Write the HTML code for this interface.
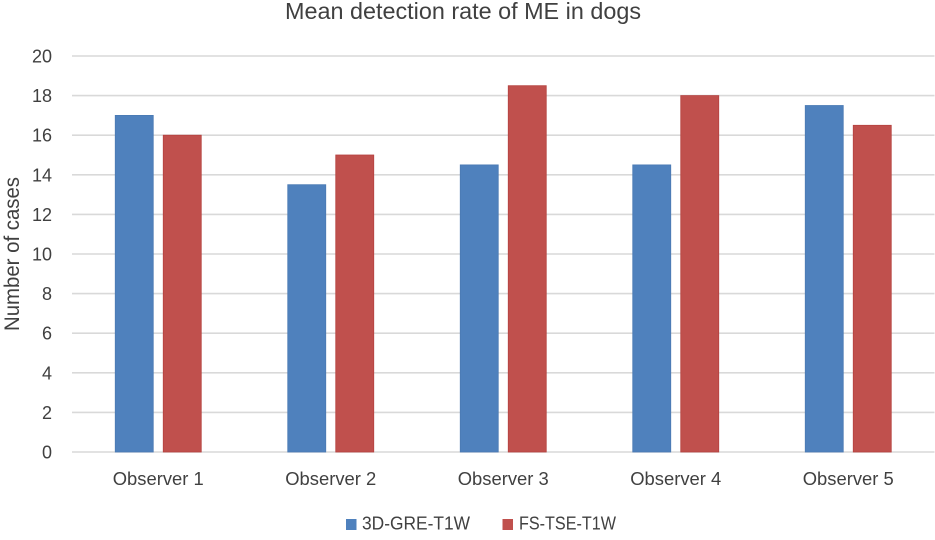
<!DOCTYPE html>
<html>
<head>
<meta charset="utf-8">
<style>
html,body{margin:0;padding:0;background:#fff;width:935px;height:540px;overflow:hidden}
svg{display:block}
text{font-family:"Liberation Sans",sans-serif;fill:#404040}
</style>
</head>
<body>
<svg id="chart" width="935" height="540" viewBox="0 0 935 540" xmlns="http://www.w3.org/2000/svg">
<text x="463" y="19" text-anchor="middle" font-size="23" textLength="356" lengthAdjust="spacingAndGlyphs">Mean detection rate of ME in dogs</text>
<text transform="translate(19,254) rotate(-90)" text-anchor="middle" font-size="21" textLength="154" lengthAdjust="spacingAndGlyphs">Number of cases</text>
<g id="grid"></g>
<g id="bars"></g>
<g id="yticks"></g>
<g id="xticks"></g>
<g>
<rect x="346" y="519" width="10.5" height="11" fill="#4f81bd"></rect>
<text x="362" y="529.5" font-size="18" textLength="108" lengthAdjust="spacingAndGlyphs">3D-GRE-T1W</text>
<rect x="502.5" y="519" width="10.5" height="11" fill="#c0504d"></rect>
<text x="519" y="529.5" font-size="18" textLength="97" lengthAdjust="spacingAndGlyphs">FS-TSE-T1W</text>
</g>
</svg>
<script>
const categories = ["Observer 1", "Observer 2", "Observer 3", "Observer 4", "Observer 5"];
const seriesGre = [17, 13.5, 14.5, 14.5, 17.5];
const seriesTse = [16, 15, 18.5, 18, 16.5];
const yTicks = [0, 2, 4, 6, 8, 10, 12, 14, 16, 18, 20];

const NS = "http://www.w3.org/2000/svg";
const plotLeft = 72, plotRight = 934.5, plotTop = 56, plotBottom = 452, yMax = 20;
const barW = 38, barGap = 10;
const yScale = v => plotBottom - (v / yMax) * (plotBottom - plotTop);
const xCenter = i => plotLeft + (i + 0.5) * (plotRight - plotLeft) / categories.length;
const make = (tag, attrs, parent) => {
  const el = document.createElementNS(NS, tag);
  for (const k in attrs) el.setAttribute(k, attrs[k]);
  parent.appendChild(el);
  return el;
};
const grid = document.getElementById("grid");
const yG = document.getElementById("yticks");
const xG = document.getElementById("xticks");
const barsG = document.getElementById("bars");

yTicks.forEach(t => {
  const line = make("line", {x1: plotLeft, x2: plotRight, y1: yScale(t), y2: yScale(t), stroke: "#d9d9d9", "stroke-width": 1.6}, grid);
  
  
  const label = make("text", {x: 52, y: yScale(t) + 6.5, "text-anchor": "end", "font-size": 18}, yG);
  
  
  label.textContent = t;
});

categories.forEach((c, i) => {
  const cx = xCenter(i);
  const gre = make("rect", {x: cx - barGap / 2 - barW, y: yScale(seriesGre[i]), width: barW, height: plotBottom - yScale(seriesGre[i]), fill: "#4f81bd", stroke: "#4a7ab3", "stroke-width": 0.8}, barsG);
  
  
  const tse = make("rect", {x: cx + barGap / 2, y: yScale(seriesTse[i]), width: barW, height: plotBottom - yScale(seriesTse[i]), fill: "#c0504d", stroke: "#b5413f", "stroke-width": 0.8}, barsG);
  
  
  const label = make("text", {x: cx, y: 485, "text-anchor": "middle", "font-size": 18, textLength: 91, lengthAdjust: "spacingAndGlyphs"}, xG);
  
  
  label.textContent = c;
});
</script>
</body>
</html>
